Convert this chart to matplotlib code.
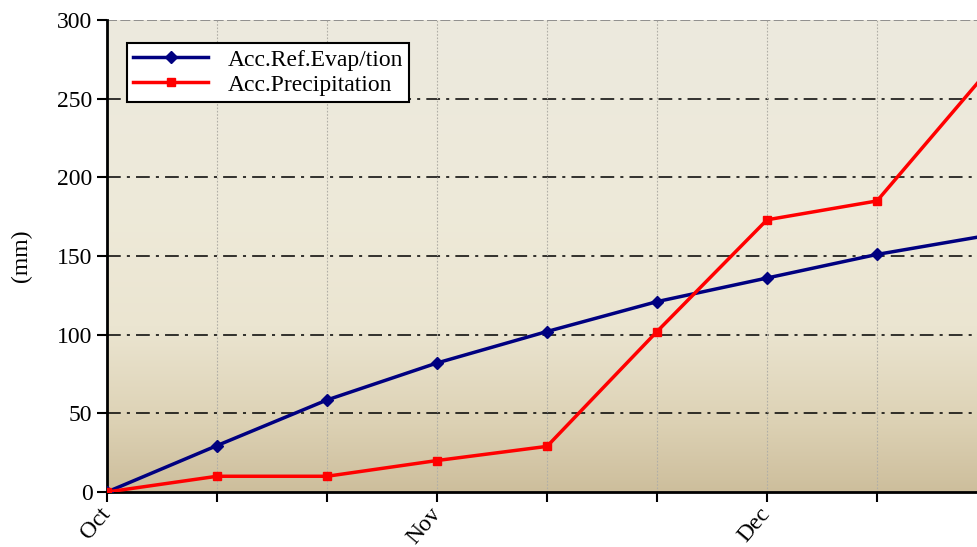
import numpy as np
import matplotlib
matplotlib.use('Agg')
import matplotlib.pyplot as plt
from matplotlib.colors import LinearSegmentedColormap

plt.rcParams['font.family'] = ['Liberation Serif', 'DejaVu Serif']

# dekads from 1 Oct (3 per month)
dekads = [0, 1, 2, 3, 4, 5, 6, 7, 8]
evap = [0, 29.5, 58.5, 82, 102, 121, 136, 151, 163]
precip = [0, 10, 10, 20, 29, 102, 173, 185, 267]
tick_labels = ['Oct', '', '', 'Nov', '', '', 'Dec', '']

fig = plt.figure(figsize=(9.78, 5.47), dpi=100)
ax = fig.add_axes([107 / 978, 1 - 492 / 547, 871 / 978, 472 / 547])

# background gradient
cmap = LinearSegmentedColormap.from_list('bg', [
    (0.0, '#cdbe9c'), (0.15, '#ddd2b5'), (0.35, '#ebe5d1'),
    (0.6, '#eeead9'), (1.0, '#ece9de')])
grad = np.linspace(0, 1, 256).reshape(-1, 1)
xmax = 871 / 110
ax.imshow(grad, cmap=cmap, origin='lower', aspect='auto',
          extent=[0, xmax, 0, 300], zorder=0)

ax.set_xlim(0, xmax)
ax.set_ylim(0, 300)

for y in [50, 100, 150, 200, 250]:
    ax.axhline(y, color='black', lw=1.1, ls=(0, (9, 4, 2, 4)), zorder=1)
ax.axhline(300, color='#808080', lw=1.2, ls=(0, (6, 2)), zorder=1)
for x in dekads[1:]:
    ax.axvline(x, color='#b0aea6', lw=0.8, ls=(0, (1.5, 1.5)), zorder=1)

ax.plot(dekads, evap, color='#000080', lw=2.5, marker='D', ms=6,
        label='Acc.Ref.Evap/tion', zorder=3)
ax.plot(dekads, precip, color='#ff0000', lw=2.5, marker='s', ms=6,
        label='Acc.Precipitation', zorder=3)

ax.set_xticks(dekads[:8])
ax.set_xticklabels(tick_labels, rotation=50, ha='right', va='center',
                   fontsize=17, rotation_mode='anchor')
ax.tick_params(axis='x', length=7, width=1.5, direction='out', pad=6)
ax.set_yticks(range(0, 301, 50))
ax.tick_params(axis='y', length=7, width=1.5, direction='out', labelsize=17)
ax.set_ylabel('(mm)', fontsize=17, labelpad=18)

for s in ['top', 'right']:
    ax.spines[s].set_visible(False)
ax.spines['left'].set_linewidth(2)
ax.spines['bottom'].set_linewidth(2)

leg = ax.legend(loc='upper left', bbox_to_anchor=(0.023, 0.951), fontsize=17,
                frameon=True, fancybox=False, edgecolor='black',
                facecolor='white', framealpha=1, handlelength=3.2,
                borderpad=0.25, labelspacing=0.15, borderaxespad=0)
leg.get_frame().set_linewidth(1.5)

fig.savefig('out.png', dpi=100)
